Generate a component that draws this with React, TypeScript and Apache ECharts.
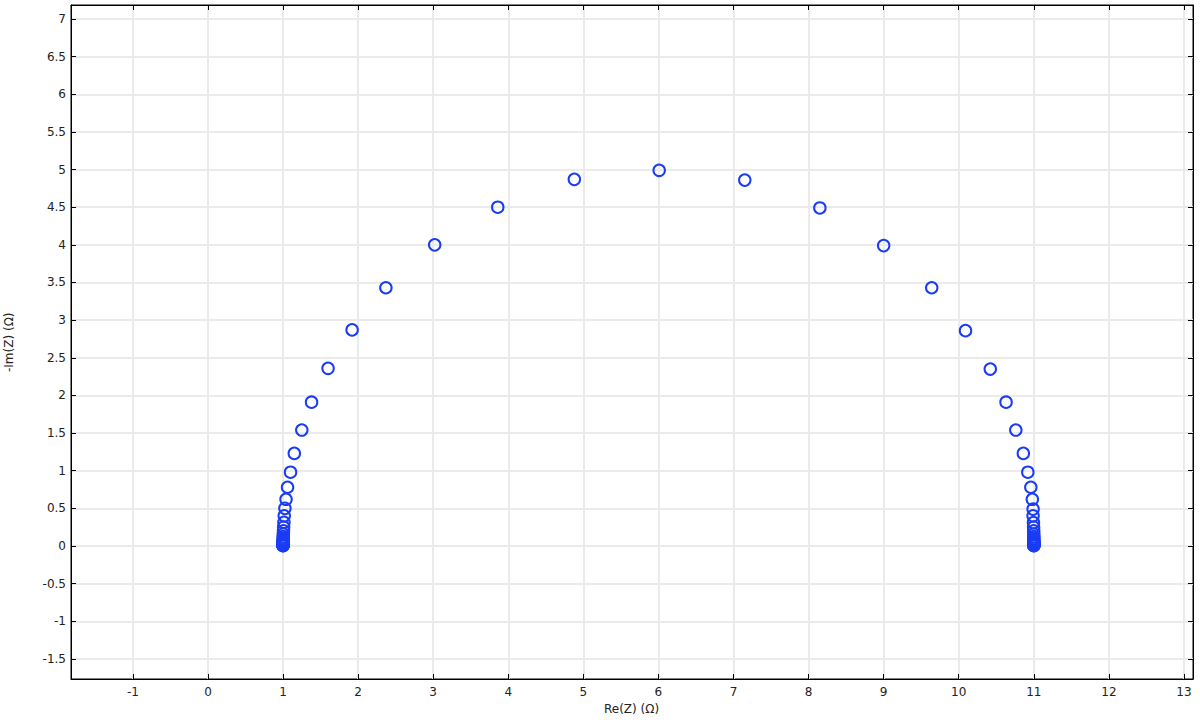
import React, { useEffect, useRef } from "react";
import * as echarts from "echarts";

const reZ = [
  1.0, 1.0, 1.0, 1.0, 1.0, 1.0, 1.0, 1.0, 1.0, 1.0, 1.0, 1.001, 1.001, 1.002, 1.003, 1.004, 1.006, 1.008, 1.012, 1.016,
  1.025, 1.04, 1.06, 1.1, 1.15, 1.25, 1.38, 1.6, 1.92, 2.37, 3.02, 3.86, 4.88, 6.01, 7.15, 8.15, 9.0, 9.64, 10.09, 10.42,
  10.63, 10.76, 10.86, 10.92, 10.96, 10.98, 10.99, 10.99, 10.995, 10.997, 10.998, 10.999, 11.0, 11.0, 11.0, 11.0, 11.0,
  11.0, 11.0, 11.0, 11.0, 11.0, 11.0, 11.0, 11.0, 11.0, 11.0,
];
const negImZ = [
  0.005, 0.0063, 0.008, 0.01, 0.0125, 0.016, 0.02, 0.025, 0.032, 0.04, 0.05, 0.063, 0.08, 0.1, 0.125, 0.158, 0.2, 0.25,
  0.315, 0.4, 0.5, 0.62, 0.78, 0.98, 1.23, 1.54, 1.91, 2.36, 2.87, 3.43, 4.0, 4.5, 4.87, 4.99, 4.86, 4.49, 3.99, 3.43,
  2.86, 2.35, 1.91, 1.54, 1.23, 0.98, 0.78, 0.62, 0.49, 0.4, 0.31, 0.25, 0.2, 0.158, 0.125, 0.1, 0.08, 0.063, 0.05, 0.04,
  0.032, 0.025, 0.02, 0.016, 0.0125, 0.01, 0.008, 0.0063, 0.005,
];
const xTicks = [-1, 0, 1, 2, 3, 4, 5, 6, 7, 8, 9, 10, 11, 12, 13];
const yTicks = [-1.5, -1, -0.5, 0, 0.5, 1, 1.5, 2, 2.5, 3, 3.5, 4, 4.5, 5, 5.5, 6, 6.5, 7];
const xLabel = "Re(Z) (Ω)";
const yLabel = "-Im(Z) (Ω)";

const FONT = "DejaVu Sans";
const TEXT = "#222";

export default function App() {
  const ref = useRef<HTMLDivElement>(null);
  useEffect(() => {
    const chart = echarts.init(ref.current!, null, { renderer: "svg" });
    const xMin = -1.824, xMax = 13.12, yMin = -1.767, yMax = 7.186;
    const tickStyle = { show: true, inside: true, length: 5, lineStyle: { color: "#000", width: 1 } };
    const split = { show: true, lineStyle: { color: "#ebebeb", width: 2 } };
    chart.setOption({
      animation: false,
      backgroundColor: "#fff",
      grid: { left: 71, top: 5, width: 1122, height: 674, show: true, borderColor: "#000", borderWidth: 1, containLabel: false },
      xAxis: [
        {
          type: "value", min: xMin, max: xMax, position: "bottom",
          axisLine: { show: true, onZero: false, lineStyle: { color: "#000", width: 1 } },
          axisTick: { ...tickStyle, customValues: xTicks },
          axisLabel: { customValues: xTicks, color: TEXT, fontFamily: FONT, fontSize: 12, margin: 7, formatter: (v: number) => String(v) },
          splitLine: split,
        },
        {
          type: "value", min: xMin, max: xMax, position: "top",
          axisLine: { show: true, onZero: false, lineStyle: { color: "#000", width: 1 } },
          axisTick: { ...tickStyle, customValues: xTicks },
          axisLabel: { show: false },
          splitLine: { show: false },
        },
      ],
      yAxis: [
        {
          type: "value", min: yMin, max: yMax, position: "left",
          axisLine: { show: true, onZero: false, lineStyle: { color: "#000", width: 1 } },
          axisTick: { ...tickStyle, customValues: yTicks },
          axisLabel: { customValues: yTicks, color: TEXT, fontFamily: FONT, fontSize: 12, margin: 5, formatter: (v: number) => String(v) },
          splitLine: split,
        },
        {
          type: "value", min: yMin, max: yMax, position: "right",
          axisLine: { show: true, onZero: false, lineStyle: { color: "#000", width: 1 } },
          axisTick: { ...tickStyle, customValues: yTicks },
          axisLabel: { show: false },
          splitLine: { show: false },
        },
      ],
      series: [
        {
          type: "scatter",
          xAxisIndex: 0, yAxisIndex: 0,
          data: reZ.map((x, i) => [x, negImZ[i]]),
          symbol: "circle",
          symbolSize: 11.5,
          itemStyle: { color: "rgba(255,255,255,0)", borderColor: "#1b3cf5", borderWidth: 2, opacity: 1 },
          emphasis: { disabled: true },
        },
      ],
      graphic: [
        { type: "text", left: 632 - 28, top: 703, style: { text: xLabel, fill: TEXT, font: `12px '${FONT}'` } },
        { type: "text", x: 3, y: 372, rotation: Math.PI / 2, style: { text: yLabel, fill: TEXT, font: `12px '${FONT}'` } },
      ],
    });
    return () => chart.dispose();
  }, []);
  return <div ref={ref} style={{ width: 1200, height: 720, position: "absolute", left: 0, top: 0 }} />;
}
